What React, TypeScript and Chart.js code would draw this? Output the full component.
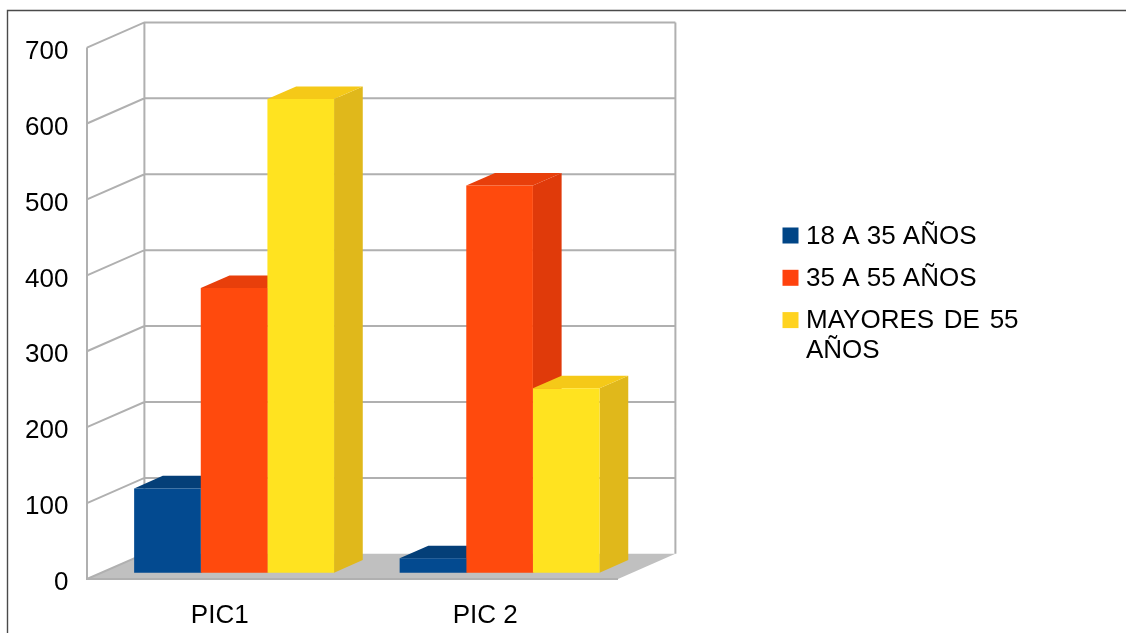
import React, { useEffect, useRef } from "react";
import { Chart, registerables } from "chart.js";

Chart.register(...registerables);

const categories = ["PIC1", "PIC 2"];
const seriesNames = ["18 A 35 AÑOS", "35 A 55 AÑOS", "MAYORES DE 55 AÑOS"];
const youngValues = [111, 19];
const middleValues = [375, 510];
const olderValues = [624, 243];
const yTicks = [0, 100, 200, 300, 400, 500, 600, 700];

const frontColors = ["#034a90", "#ff4a0d", "#ffe320"];
const topColors = ["#043f78", "#e83f0b", "#f5c918"];
const sideColors = ["#033a70", "#e03a0a", "#e0b81b"];
const legendColors = ["#004586", "#ff420e", "#ffd320"];

const FONT = "'Liberation Sans', Arial, sans-serif";
const FONT_SIZE = 26;
const WALL_DX = 57.4;
const WALL_DY = -25.2;
const GRID = "#b0b0b0";

const scene3d = {
  id: "scene3d",
  beforeDraw(chart: any) {
    const { ctx, width, height } = chart;
    ctx.save();
    ctx.fillStyle = "#ffffff";
    ctx.fillRect(0, 0, width, height);
    ctx.strokeStyle = "#4a4a4a";
    ctx.lineWidth = 1.4;
    ctx.beginPath();
    ctx.moveTo(7.5, height);
    ctx.lineTo(7.5, 10.5);
    ctx.lineTo(width, 10.5);
    ctx.stroke();
    ctx.restore();
    // the reference sets its value labels slightly below each tick
    chart.scales.y.getLabelItems().forEach((item: any) => {
      item.options.translation[1] += 4;
    });
  },
  beforeDatasetsDraw(chart: any) {
    const { ctx, chartArea, scales } = chart;
    const { left, right, top, bottom } = chartArea;
    const y = scales.y;
    ctx.save();
    // floor
    ctx.fillStyle = "#c0c0c0";
    ctx.beginPath();
    ctx.moveTo(left, bottom);
    ctx.lineTo(right, bottom);
    ctx.lineTo(right + WALL_DX, bottom + WALL_DY);
    ctx.lineTo(left + WALL_DX, bottom + WALL_DY);
    ctx.closePath();
    ctx.fill();
    // wall grid
    ctx.strokeStyle = GRID;
    ctx.lineWidth = 2;
    ctx.lineJoin = "miter";
    ctx.beginPath();
    ctx.moveTo(left, top);
    ctx.lineTo(left, bottom);
    ctx.lineTo(right, bottom);
    ctx.moveTo(left + WALL_DX, top + WALL_DY);
    ctx.lineTo(left + WALL_DX, bottom + WALL_DY);
    ctx.moveTo(right + WALL_DX, top + WALL_DY);
    ctx.lineTo(right + WALL_DX, bottom + WALL_DY);
    for (const t of yTicks) {
      const py = y.getPixelForValue(t);
      ctx.moveTo(left, py);
      ctx.lineTo(left + WALL_DX, py + WALL_DY);
      if (t !== 0) ctx.lineTo(right + WALL_DX, py + WALL_DY);
    }
    ctx.stroke();
    // bar sides and tops, painted left to right
    const dx = WALL_DX / 4;
    const dy = WALL_DY / 4;
    const ddx = WALL_DX / 2;
    const ddy = WALL_DY / 2;
    const nCats = categories.length;
    const nSets = chart.data.datasets.length;
    for (let c = 0; c < nCats; c++) {
      for (let d = 0; d < nSets; d++) {
        const el = chart.getDatasetMeta(d).data[c];
        const x0 = el.x - el.width / 2 + dx;
        const x1 = el.x + el.width / 2 + dx;
        const yt = el.y + dy;
        const yb = el.base + dy;
        ctx.fillStyle = sideColors[d];
        ctx.beginPath();
        ctx.moveTo(x1, yt);
        ctx.lineTo(x1 + ddx, yt + ddy);
        ctx.lineTo(x1 + ddx, yb + ddy);
        ctx.lineTo(x1, yb);
        ctx.closePath();
        ctx.fill();
        ctx.fillStyle = topColors[d];
        ctx.beginPath();
        ctx.moveTo(x0, yt);
        ctx.lineTo(x0 + ddx, yt + ddy);
        ctx.lineTo(x1 + ddx, yt + ddy);
        ctx.lineTo(x1, yt);
        ctx.closePath();
        ctx.fill();
      }
    }
    ctx.restore();
    ctx.save();
    ctx.translate(dx, dy);
  },
  afterDatasetsDraw(chart: any) {
    chart.ctx.restore();
  },
  afterDraw(chart: any) {
    const { ctx } = chart;
    ctx.save();
    ctx.font = `${FONT_SIZE}px ${FONT}`;
    ctx.fillStyle = "#000000";
    ctx.textAlign = "left";
    ctx.textBaseline = "alphabetic";
    const swatchX = 782.5;
    const textX = 806;
    const lineGap = 30;
    const rowGap = 42.3;
    let baseline = 243.5;
    seriesNames.forEach((name, i) => {
      ctx.fillStyle = legendColors[i];
      ctx.fillRect(swatchX, baseline - 16, 16, 16);
      ctx.fillStyle = "#000000";
      const words = name.split(" ");
      let line = "";
      const lines: string[] = [];
      for (const w of words) {
        const next = line ? line + " " + w : w;
        if (ctx.measureText(next).width > 225 && line) {
          lines.push(line);
          line = w;
        } else line = next;
      }
      lines.push(line);
      ctx.wordSpacing = lines.length > 1 ? "2.5px" : "0px";
      lines.forEach((l, k) => ctx.fillText(l, textX, baseline + k * lineGap));
      baseline += rowGap;
    });
    ctx.restore();
  },
};

export default function App() {
  const ref = useRef<HTMLCanvasElement | null>(null);
  useEffect(() => {
    if (!ref.current) return;
    const chart = new Chart(ref.current, {
      type: "bar",
      data: {
        labels: categories,
        datasets: [youngValues, middleValues, olderValues].map((data, i) => ({
          label: seriesNames[i],
          data,
          backgroundColor: frontColors[i],
          borderWidth: 0,
          categoryPercentage: 0.753,
          barPercentage: 1,
          clip: false as any,
        })),
      },
      options: {
        responsive: false,
        animation: false,
        layout: { padding: { left: 0, top: 47.6, right: 508, bottom: 0 } },
        plugins: { legend: { display: false }, tooltip: { enabled: false }, title: { display: false } },
        scales: {
          x: {
            grid: { display: false },
            border: { display: false },
            ticks: {
              color: "#000000",
              font: { family: FONT, size: FONT_SIZE },
              padding: 13,
              maxRotation: 0,
            },
            afterFit(s: any) {
              s.height = 54;
            },
          },
          y: {
            min: 0,
            max: 700,
            grid: { display: false },
            border: { display: false },
            ticks: {
              stepSize: 100,
              color: "#000000",
              font: { family: FONT, size: FONT_SIZE },
              padding: 10.5,
            },
            afterFit(s: any) {
              s.width = 87;
            },
          },
        },
      },
      plugins: [scene3d],
    } as any);
    return () => chart.destroy();
  }, []);
  return (
    <div style={{ position: "absolute", left: 0, top: 0, width: 1126, height: 633, overflow: "hidden" }}>
      <canvas ref={ref} width={1126} height={633} style={{ display: "block" }} />
    </div>
  );
}
